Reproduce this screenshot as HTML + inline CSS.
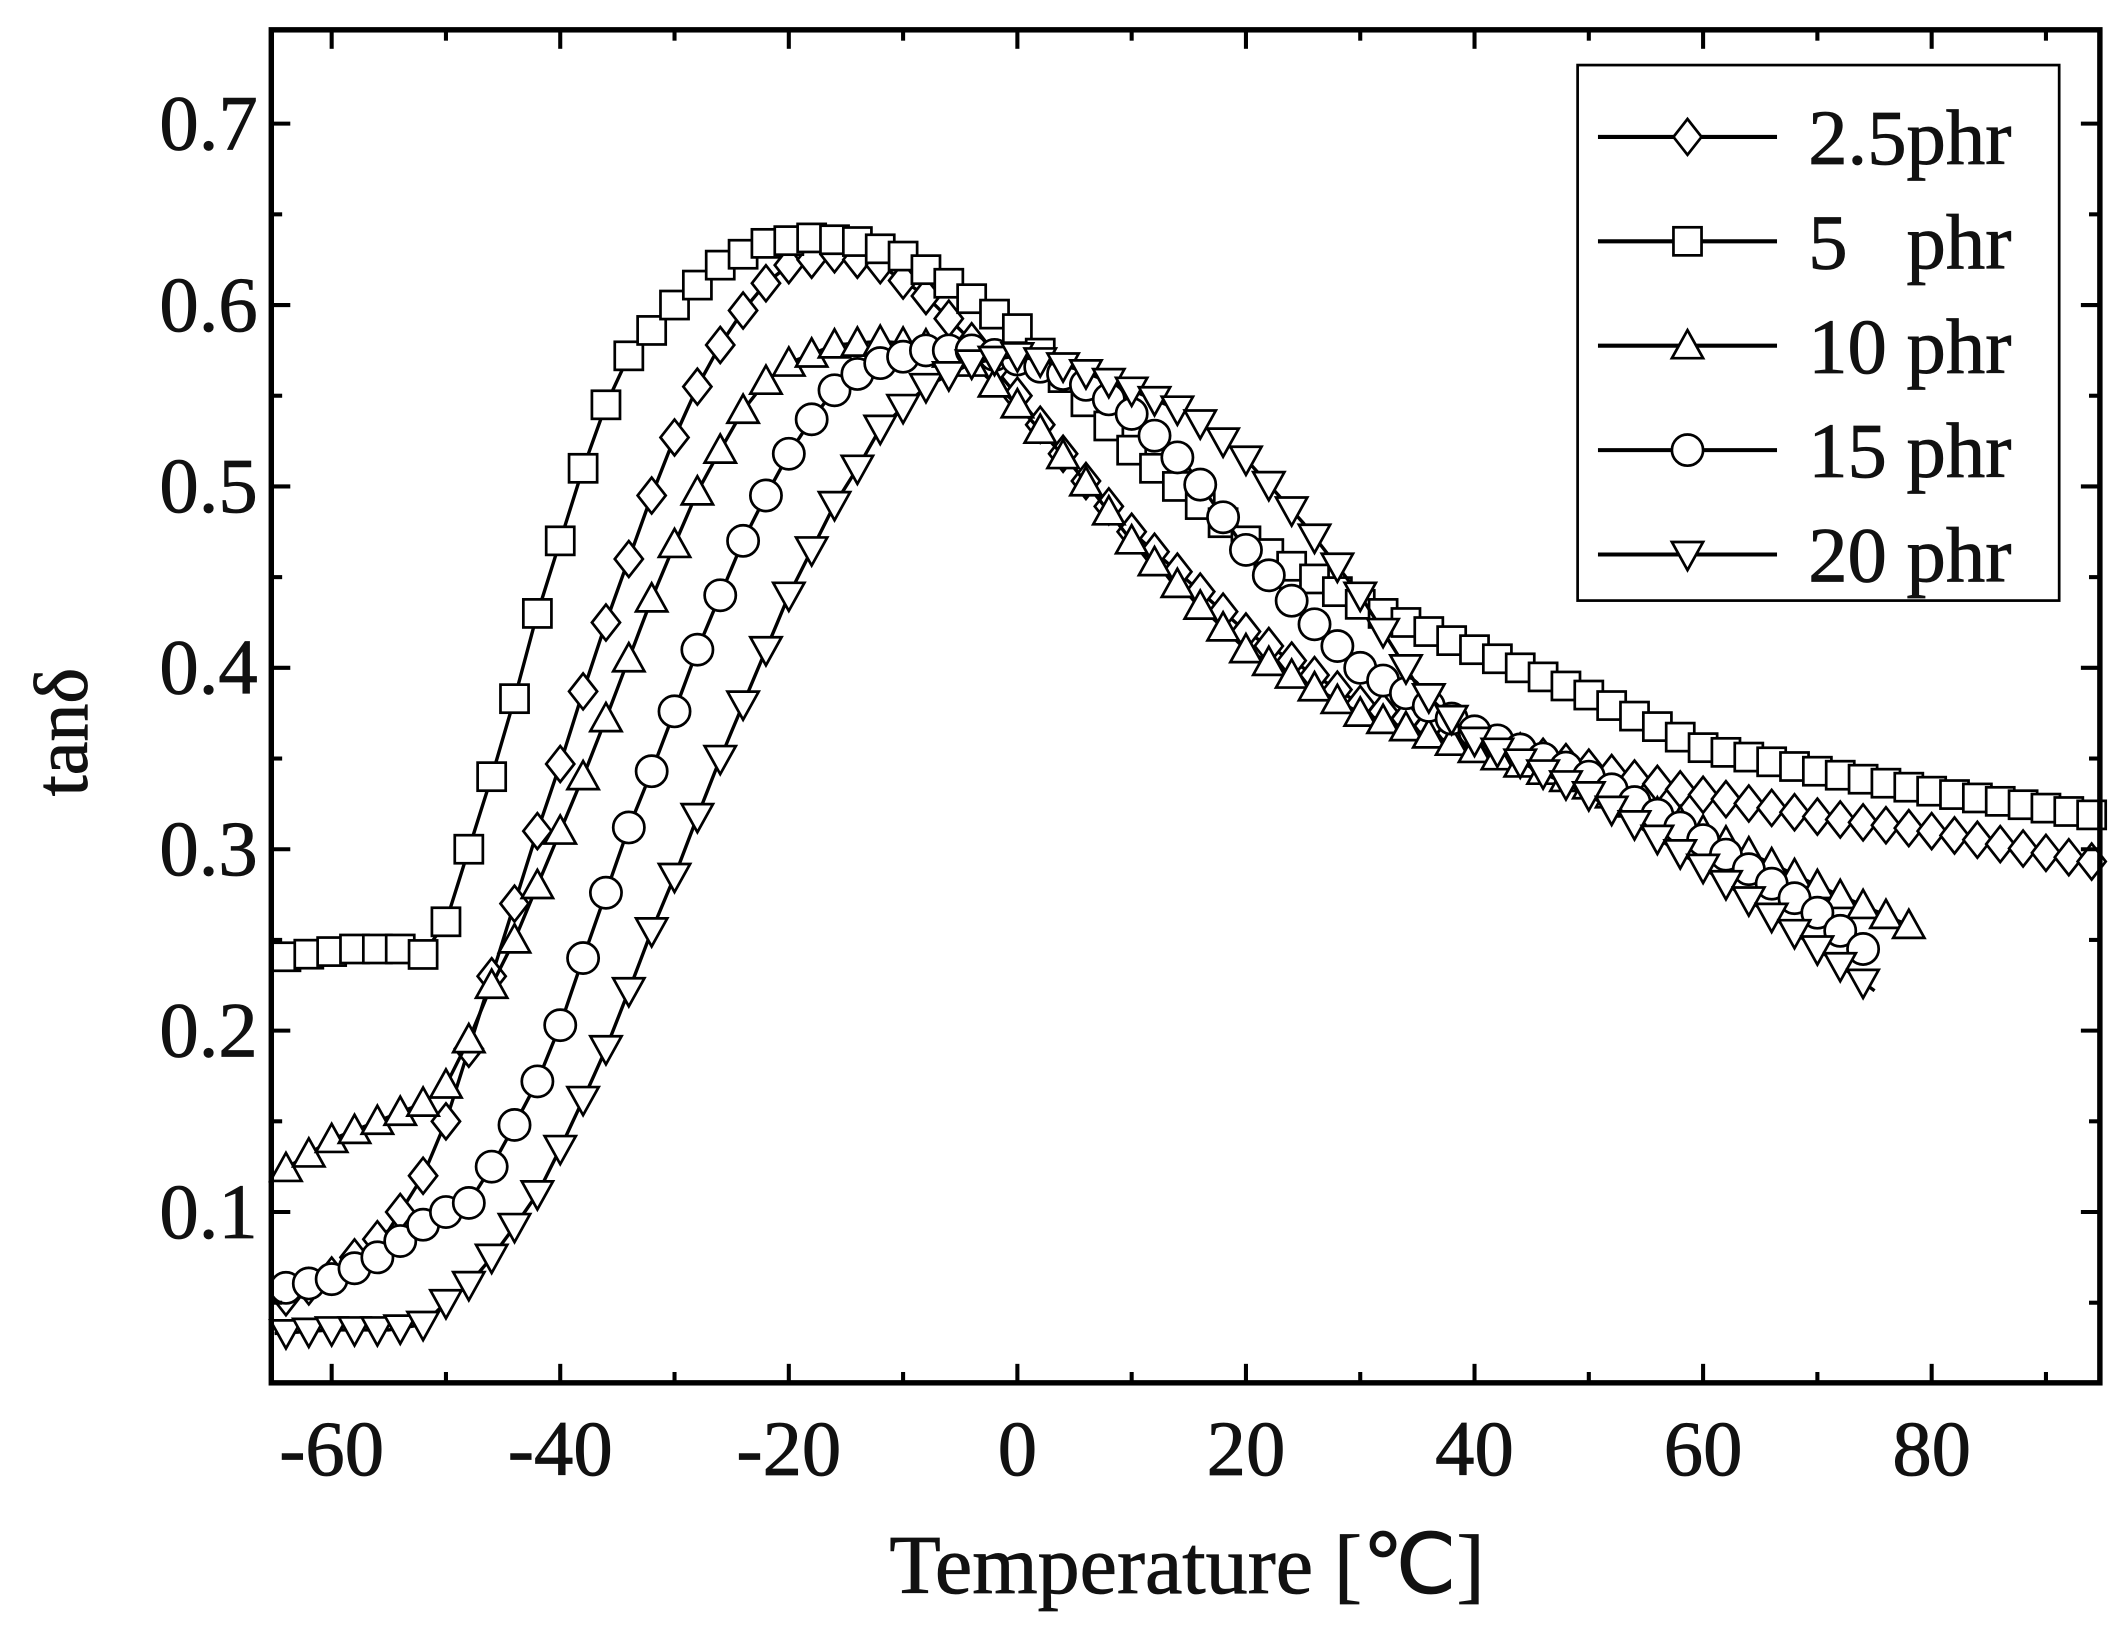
<!DOCTYPE html>
<html><head><meta charset="utf-8"><style>
html,body{margin:0;padding:0;background:#fff;}
svg{display:block;}
text{font-family:"Liberation Serif",serif;fill:#111;stroke:#111;stroke-width:0.6;}
</style></head><body>
<svg id="s" width="2127" height="1635" viewBox="0 0 1568 1206" preserveAspectRatio="none" xmlns="http://www.w3.org/2000/svg">
<rect x="0" y="0" width="1568" height="1206" fill="#fff"/>
<g id="plot"></g>
<rect x="200" y="22" width="1348" height="998" fill="none" stroke="#000" stroke-width="4"/>
<g id="ticks" stroke="#000" stroke-width="3"></g>
<g id="lbl" font-size="58"></g>
<text x="875" y="1175" font-size="62" text-anchor="middle">Temperature [℃]</text>
<text transform="translate(64,540) rotate(-90)" font-size="56" text-anchor="middle">tanδ</text>
<rect x="1163" y="48" width="355" height="395" fill="#fff" stroke="#000" stroke-width="2"/>
<g id="leg"></g>
</svg>
<script>
const NS="http://www.w3.org/2000/svg";
function X(t){return 750+t*8.425;}
function Y(v){return 894-(v-0.1)*1338;}
function el(p,n,a){const e=document.createElementNS(NS,n);for(const k in a)e.setAttribute(k,a[k]);p.appendChild(e);return e;}
const ticks=document.getElementById('ticks'),lbl=document.getElementById('lbl');
for(let t=-60;t<=90;t+=10){const x=X(t);const L=(t%20===0)?14:8;el(ticks,'line',{x1:x,y1:1020,x2:x,y2:1020-L});el(ticks,'line',{x1:x,y1:22,x2:x,y2:22+L});}
for(let t=-60;t<=80;t+=20){const e=el(lbl,'text',{x:X(t),y:1088,'text-anchor':'middle'});e.textContent=String(t);}
for(let i=1;i<=14;i++){const v=0.05*i;const y=Y(v);if(y<22||y>1020)continue;const L=(i%2===0)?14:8;el(ticks,'line',{x1:200,y1:y,x2:200+L,y2:y});el(ticks,'line',{x1:1548,y1:y,x2:1548-L,y2:y});
 if(i%2===0){const e=el(lbl,'text',{x:190,y:y+19,'text-anchor':'end'});e.textContent=v.toFixed(1);}}
function marker(g,type,x,y){const r=11.5;const a={fill:'#fff',stroke:'#000','stroke-width':2};
 if(type==='d')el(g,'polygon',Object.assign({points:`${x},${y-r*1.15} ${x+r*0.9},${y} ${x},${y+r*1.15} ${x-r*0.9},${y}`},a));
 else if(type==='s')el(g,'rect',Object.assign({x:x-r*0.9,y:y-r*0.9,width:r*1.8,height:r*1.8},a));
 else if(type==='u')el(g,'polygon',Object.assign({points:`${x},${y-r} ${x+r},${y+r*0.8} ${x-r},${y+r*0.8}`},a));
 else if(type==='c')el(g,'circle',Object.assign({cx:x,cy:y,r:r},a));
 else el(g,'polygon',Object.assign({points:`${x},${y+r} ${x+r},${y-r*0.8} ${x-r},${y-r*0.8}`},a));}
const S=[
['d',[[-65,0.05],[-60,0.065],[-55,0.09],[-52,0.12],[-50,0.15],[-48,0.19],[-46,0.23],[-44,0.27],[-42,0.31],[-40,0.347],[-38,0.387],[-36,0.425],[-34,0.46],[-32,0.495],[-30,0.527],[-28,0.555],[-26,0.578],[-24,0.597],[-22,0.612],[-20,0.622],[-16,0.628],[-12,0.622],[-8,0.605],[-4,0.58],[0,0.55],[5,0.51],[10,0.475],[20,0.42],[30,0.38],[40,0.36],[50,0.345],[60,0.33],[70,0.318],[80,0.31],[95,0.292]]],
['s',[[-65,0.24],[-58,0.245],[-54,0.245],[-52,0.242],[-50,0.26],[-48,0.30],[-46,0.34],[-44,0.383],[-42,0.43],[-40,0.47],[-38,0.51],[-36,0.545],[-34,0.572],[-30,0.60],[-26,0.622],[-22,0.634],[-18,0.637],[-14,0.635],[-10,0.627],[-6,0.612],[-2,0.595],[0,0.587],[4,0.56],[10,0.52],[20,0.47],[30,0.435],[40,0.41],[50,0.385],[60,0.356],[70,0.343],[80,0.332],[95,0.318]]],
['u',[[-65,0.12],[-60,0.14],[-56,0.15],[-52,0.16],[-50,0.17],[-48,0.195],[-46,0.225],[-44,0.25],[-42,0.28],[-40,0.31],[-38,0.34],[-36,0.372],[-34,0.405],[-32,0.438],[-30,0.468],[-28,0.497],[-26,0.52],[-24,0.542],[-22,0.558],[-20,0.568],[-16,0.578],[-12,0.58],[-8,0.578],[-4,0.568],[0,0.545],[5,0.51],[10,0.47],[20,0.41],[30,0.375],[40,0.355],[50,0.335],[60,0.31],[70,0.28],[78,0.258]]],
['c',[[-65,0.057],[-60,0.063],[-56,0.075],[-52,0.093],[-50,0.1],[-48,0.105],[-46,0.125],[-44,0.148],[-42,0.172],[-40,0.203],[-38,0.24],[-36,0.276],[-34,0.312],[-32,0.343],[-30,0.376],[-28,0.41],[-26,0.44],[-24,0.47],[-22,0.495],[-20,0.518],[-18,0.537],[-16,0.553],[-14,0.562],[-12,0.568],[-8,0.575],[-4,0.575],[0,0.57],[5,0.56],[10,0.54],[15,0.51],[20,0.465],[25,0.43],[30,0.40],[40,0.365],[50,0.34],[60,0.305],[70,0.265],[75,0.24]]],
['v',[[-65,0.033],[-60,0.035],[-55,0.035],[-52,0.038],[-50,0.05],[-48,0.06],[-46,0.075],[-44,0.092],[-42,0.11],[-40,0.135],[-38,0.162],[-36,0.19],[-34,0.222],[-32,0.255],[-30,0.285],[-28,0.318],[-26,0.35],[-24,0.38],[-22,0.41],[-20,0.44],[-18,0.465],[-16,0.49],[-14,0.51],[-12,0.532],[-8,0.555],[-4,0.568],[0,0.572],[5,0.565],[10,0.553],[15,0.54],[20,0.515],[25,0.48],[30,0.44],[35,0.39],[40,0.36],[50,0.33],[60,0.29],[70,0.245],[75,0.222]]]];
function interp(pts,t){for(let i=0;i<pts.length-1;i++){if(t>=pts[i][0]&&t<=pts[i+1][0]){const f=(t-pts[i][0])/(pts[i+1][0]-pts[i][0]);return pts[i][1]+f*(pts[i+1][1]-pts[i][1]);}}return pts[pts.length-1][1];}
const plot=document.getElementById('plot');
S.forEach(([m,pts])=>{const g=el(plot,'g',{});const t0=pts[0][0],t1=pts[pts.length-1][0];
 let d='';for(let t=t0;t<=t1+0.001;t+=0.5){d+=(d?'L':'M')+X(t).toFixed(1)+','+Y(interp(pts,t)).toFixed(1);}
 el(g,'path',{d:d,fill:'none',stroke:'#000','stroke-width':2.5});
 for(let t=t0+1;t<=t1+0.001;t+=2){marker(g,m,X(Math.min(t,t1)),Y(interp(pts,Math.min(t,t1))));}});
const leg=document.getElementById('leg');const names=['2.5phr','5\u00a0\u00a0\u00a0phr','10 phr','15 phr','20 phr'];const ms=['d','s','u','c','v'];
for(let i=0;i<5;i++){const y=101+i*77;el(leg,'line',{x1:1178,y1:y,x2:1310,y2:y,stroke:'#000','stroke-width':3});marker(leg,ms[i],1244,y);
 const e=el(leg,'text',{x:1333,y:y+20,'font-size':58});e.textContent=names[i];}
</script>
</body></html>
